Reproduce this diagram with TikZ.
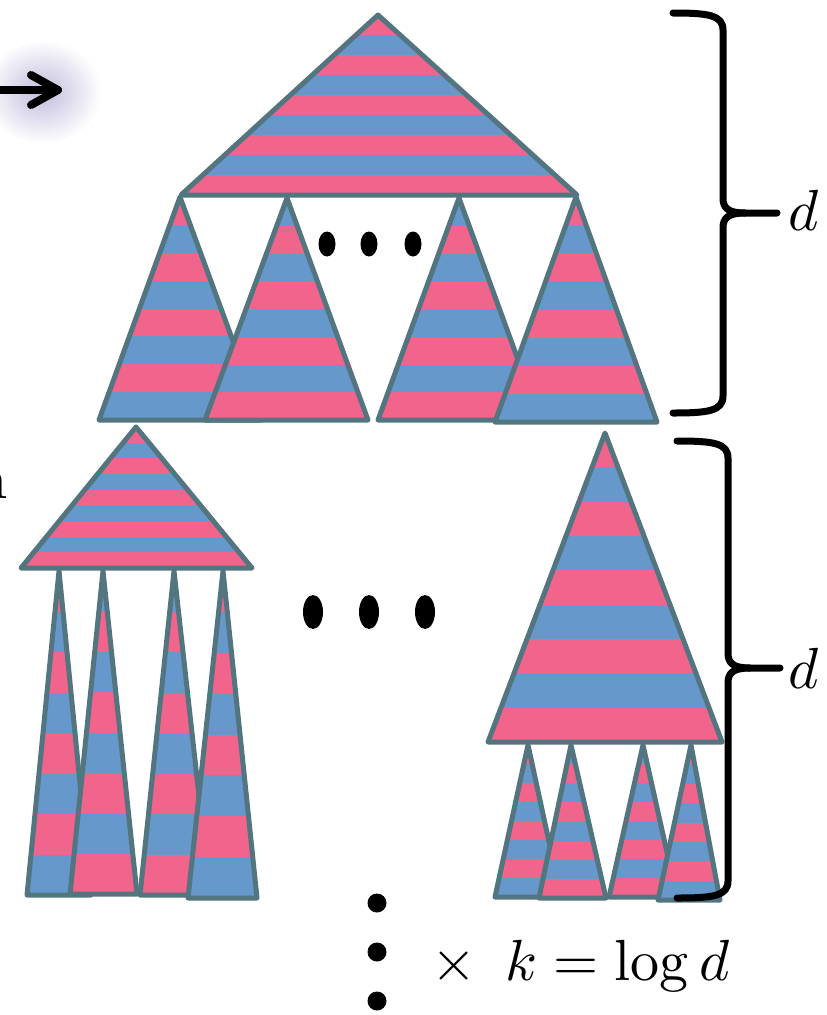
\documentclass[tikz,border=0pt]{standalone}
\usepackage{tikz}
\definecolor{stripepink}{RGB}{241,101,140}
\definecolor{stripeblue}{RGB}{103,152,204}
\definecolor{edgecol}{RGB}{82,117,128}
\definecolor{glowcol}{RGB}{192,188,220}
\tikzset{
  edge/.style={draw=edgecol, line width=5pt, line join=round, line cap=round},
  bracestyle/.style={draw=black, line width=7pt, line cap=round, line join=round},
  bigtext/.style={inner sep=0pt, font=\fontsize{10}{12}\selectfont, scale=5.8},
}
% striped triangle: apex x, apex y, base left x, base right x, base y, bands, top colour, other colour
\newcommand\stripetri[8]{%
  \begin{scope}
    \clip (#1,#2) -- (#3,#5) -- (#4,#5) -- cycle;
    \foreach \i in {1,...,#6} {
      \pgfmathsetmacro\ya{#2+(\i-1)*(#5-#2)/#6}
      \pgfmathsetmacro\yb{#2+\i*(#5-#2)/#6}
      \ifodd\i\relax\def\bandcol{#7}\else\def\bandcol{#8}\fi
      \fill[\bandcol] (#3-5,\ya) rectangle (#4+5,\yb+0.4);
    }
  \end{scope}
  \draw[edge] (#1,#2) -- (#3,#5) -- (#4,#5) -- cycle;
}
\begin{document}
\begin{tikzpicture}[x=1pt,y=-1pt]
\useasboundingbox (0,0) rectangle (827,1015);
\begin{scope}
\clip (0,0) rectangle (827,1015);

% glowing arrow
\shade[inner color=glowcol, outer color=white] (42,92) ellipse (60 and 52);
\coordinate (arrS) at (-5,90);
\coordinate (arrT) at (58,90);
\draw[line width=8pt, line cap=round, line join=round] (arrS) -- (arrT);
\draw[line width=8pt, line cap=round, line join=round] (31,75) -- (arrT) -- (31,105);

% label at the left edge
\node[bigtext, anchor=base east] (nlabel) at (9,498) {n};

% top level: root block and its children
\stripetri{180}{197}{99}{262}{420}{8}{stripepink}{stripeblue}
\stripetri{287}{198}{205}{368}{420}{8}{stripeblue}{stripepink}
\stripetri{459}{198}{378}{540}{420}{8}{stripeblue}{stripepink}
\stripetri{576}{197}{495}{657}{422}{8}{stripepink}{stripeblue}
\stripetri{378}{15}{181}{577}{195}{9}{stripepink}{stripeblue}

\fill (327,244) ellipse (8.5 and 12.5);
\fill (369,244) ellipse (8.5 and 12.5);
\fill (413,244) ellipse (8.5 and 12.5);

% lower level, left block
\stripetri{59}{571}{27}{91}{895}{8}{stripepink}{stripeblue}
\stripetri{103}{571}{70}{137}{894}{8}{stripeblue}{stripepink}
\stripetri{174}{571}{140}{210}{895}{8}{stripeblue}{stripepink}
\stripetri{223}{571}{188}{257}{898}{8}{stripepink}{stripeblue}
\stripetri{136}{427}{21}{252}{568}{9}{stripepink}{stripeblue}

\fill (313,612) ellipse (10 and 17);
\fill (369,612) ellipse (10 and 17);
\fill (425,612) ellipse (10 and 17);

% lower level, right block
\stripetri{528}{745}{495}{561}{897}{8}{stripepink}{stripeblue}
\stripetri{571}{745}{539}{606}{898}{8}{stripeblue}{stripepink}
\stripetri{643}{745}{609}{677}{897}{8}{stripeblue}{stripepink}
\stripetri{691}{745}{658}{720}{900}{8}{stripepink}{stripeblue}
\stripetri{605}{433}{488}{722}{742}{9}{stripepink}{stripeblue}

% braces with their labels
\node[bigtext, anchor=base west] (d1) at (787,230) {$d$};
\node[bigtext, anchor=base west] (d2) at (787,688) {$d$};
\coordinate (tip1) at (777,213);
\coordinate (tip2) at (780,668);

\draw[bracestyle] (673,13) .. controls (708,13) and (723,15) .. (723,30)
  -- (723,198) .. controls (723,208) and (728,213) .. (745,213) -- (tip1);
\draw[bracestyle] (745,213) .. controls (728,213) and (723,218) .. (723,228)
  -- (723,396) .. controls (723,411) and (708,413) .. (673,413);

\draw[bracestyle] (677,441) .. controls (713,441) and (728,443) .. (728,458)
  -- (728,653) .. controls (728,663) and (733,668) .. (750,668) -- (tip2);
\draw[bracestyle] (750,668) .. controls (733,668) and (728,673) .. (728,683)
  -- (728,881) .. controls (728,896) and (713,898) .. (677,898);

% repetition marks
\fill (377,903) circle (9.5);
\fill (377,952) circle (9.5);
\fill (377,1001) circle (9.5);
\node[bigtext, anchor=base west] (rep) at (430,980) {$\times\mkern9mu k = \log d$};
\end{scope}
\end{tikzpicture}
\end{document}
